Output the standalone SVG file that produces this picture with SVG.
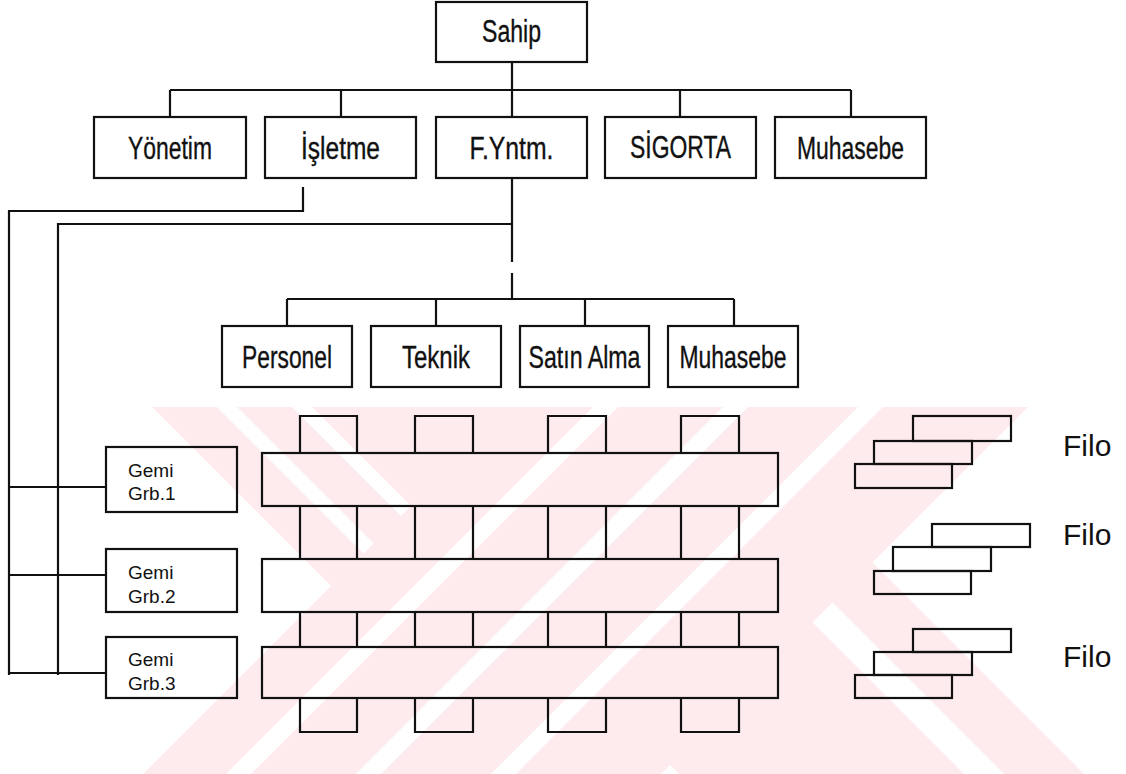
<svg xmlns="http://www.w3.org/2000/svg" width="1126" height="774" viewBox="0 0 1126 774">
  <style>
    .box { fill: none; stroke: #111; stroke-width: 2.2; }
    .line { fill: none; stroke: #111; stroke-width: 2.2; }
    .lbl { font-family: "Liberation Sans", Arial, sans-serif; font-size: 31px; fill: #111; stroke: #111; stroke-width: 0.35; text-anchor: middle; }
    .small { font-family: "Liberation Sans", Arial, sans-serif; font-size: 19px; fill: #111; }
    .filo { font-family: "Liberation Sans", Arial, sans-serif; font-size: 30px; fill: #111; }
    .wm { fill: #fdebee; }
    .wmgap { fill: #ffffff; }
  </style>
  <defs>
    <clipPath id="wmclip">
      <rect x="0" y="407" width="1126" height="367"/>
    </clipPath>
  </defs>

  <rect x="0" y="0" width="1126" height="774" fill="#ffffff"/>

  <!-- background mark: two crossing striped bands -->
  <g id="mark" clip-path="url(#wmclip)">
    <polygon class="wm" points="152,407 717,407 1084,774 519,774"/>
    <polygon class="wmgap" points="217,407 237,407 604,774 584,774"/>
    <polygon class="wmgap" points="292,407 312,407 679,774 659,774"/>
    <polygon class="wmgap" points="597,407 637,407 1004,774 964,774"/>
    <polygon class="wm" points="510,407 1028,407 661,774 143,774"/>
    <polygon class="wmgap" points="593,407 618,407 251,774 226,774"/>
    <polygon class="wmgap" points="723,407 748,407 381,774 356,774"/>
    <polygon class="wmgap" points="858,407 883,407 516,774 491,774"/>
  </g>

  <!-- connectors -->
  <g id="connectors" class="line">
    <path d="M512,62 V117"/>
    <path d="M170,90 H851"/>
    <path d="M170,90 V117 M341,90 V117 M680,90 V117 M851,90 V117"/>
    <path d="M303,187 V211 H9 V675"/>
    <path d="M512,178 V262 M512,273 V299"/>
    <path d="M512,224 H58 V675"/>
    <path d="M287,299 H734"/>
    <path d="M287,299 V326 M436,299 V326 M585,299 V326 M734,299 V326"/>
    <path d="M9,487 H106 M9,575 H106 M9,673 H106"/>
  </g>

  <!-- head office -->
  <g id="sahip">
    <rect class="box" x="436" y="2" width="151" height="60"/>
    <text class="lbl" x="511.5" y="42" textLength="59" lengthAdjust="spacingAndGlyphs">Sahip</text>
  </g>
  <g id="yonetim">
    <rect class="box" x="94" y="117" width="152" height="61"/>
    <text class="lbl" x="170" y="159" textLength="84" lengthAdjust="spacingAndGlyphs">Yönetim</text>
  </g>
  <g id="isletme">
    <rect class="box" x="265" y="117" width="151" height="61"/>
    <text class="lbl" x="340.5" y="159" textLength="79" lengthAdjust="spacingAndGlyphs">İşletme</text>
  </g>
  <g id="fyntm">
    <rect class="box" x="436" y="117" width="151" height="61"/>
    <text class="lbl" x="511.5" y="159" textLength="84" lengthAdjust="spacingAndGlyphs">F.Yntm.</text>
  </g>
  <g id="sigorta">
    <rect class="box" x="605" y="117" width="151" height="61"/>
    <text class="lbl" x="680.5" y="158" textLength="101" lengthAdjust="spacingAndGlyphs">SİGORTA</text>
  </g>
  <g id="muhasebe1">
    <rect class="box" x="775" y="117" width="151" height="61"/>
    <text class="lbl" x="850.5" y="159" textLength="107" lengthAdjust="spacingAndGlyphs">Muhasebe</text>
  </g>

  <!-- fleet management departments -->
  <g id="personel">
    <rect class="box" x="222" y="326" width="130" height="61"/>
    <text class="lbl" x="287" y="368" textLength="90" lengthAdjust="spacingAndGlyphs">Personel</text>
  </g>
  <g id="teknik">
    <rect class="box" x="371" y="326" width="130" height="61"/>
    <text class="lbl" x="436" y="368" textLength="68" lengthAdjust="spacingAndGlyphs">Teknik</text>
  </g>
  <g id="satinalma">
    <rect class="box" x="520" y="326" width="129" height="61"/>
    <text class="lbl" x="584.5" y="368" textLength="112" lengthAdjust="spacingAndGlyphs">Satın Alma</text>
  </g>
  <g id="muhasebe2">
    <rect class="box" x="668" y="326" width="130" height="61"/>
    <text class="lbl" x="733" y="368" textLength="107" lengthAdjust="spacingAndGlyphs">Muhasebe</text>
  </g>

  <!-- ship groups -->
  <g id="gemi1">
    <rect class="box" x="106" y="447" width="131" height="65"/>
    <text class="small" x="128" y="477">Gemi</text>
    <text class="small" x="128" y="500">Grb.1</text>
  </g>
  <g id="gemi2">
    <rect class="box" x="106" y="549" width="131" height="63"/>
    <text class="small" x="128" y="579">Gemi</text>
    <text class="small" x="128" y="603">Grb.2</text>
  </g>
  <g id="gemi3">
    <rect class="box" x="106" y="637" width="131" height="61"/>
    <text class="small" x="128" y="666">Gemi</text>
    <text class="small" x="128" y="690">Grb.3</text>
  </g>

  <!-- woven matrix: department columns crossing group bars -->
  <g id="matrix" class="line">
    <rect x="262" y="453" width="516" height="53"/>
    <rect x="262" y="559" width="516" height="53"/>
    <rect x="262" y="647" width="516" height="51"/>
    <path d="M300,453 V416 H357 V453 M415,453 V416 H473 V453 M548,453 V416 H606 V453 M681,453 V416 H739 V453"/>
    <path d="M300,506 V559 M357,506 V559 M415,506 V559 M473,506 V559 M548,506 V559 M606,506 V559 M681,506 V559 M739,506 V559"/>
    <path d="M300,612 V647 M357,612 V647 M415,612 V647 M473,612 V647 M548,612 V647 M606,612 V647 M681,612 V647 M739,612 V647"/>
    <path d="M300,698 V732 H357 V698 M415,698 V732 H473 V698 M548,698 V732 H606 V698 M681,698 V732 H739 V698"/>
  </g>

  <!-- fleets -->
  <g id="filo1">
    <rect class="box" x="913" y="416" width="98" height="25"/>
    <rect class="box" x="874" y="441" width="98" height="23"/>
    <rect class="box" x="855" y="464" width="97" height="24"/>
    <text class="filo" x="1063" y="456">Filo</text>
  </g>
  <g id="filo2">
    <rect class="box" x="932" y="524" width="98" height="23"/>
    <rect class="box" x="893" y="547" width="98" height="24"/>
    <rect class="box" x="874" y="571" width="97" height="23"/>
    <text class="filo" x="1063" y="545">Filo</text>
  </g>
  <g id="filo3">
    <rect class="box" x="913" y="629" width="98" height="23"/>
    <rect class="box" x="874" y="652" width="98" height="23"/>
    <rect class="box" x="855" y="675" width="97" height="23"/>
    <text class="filo" x="1063" y="667">Filo</text>
  </g>
</svg>
